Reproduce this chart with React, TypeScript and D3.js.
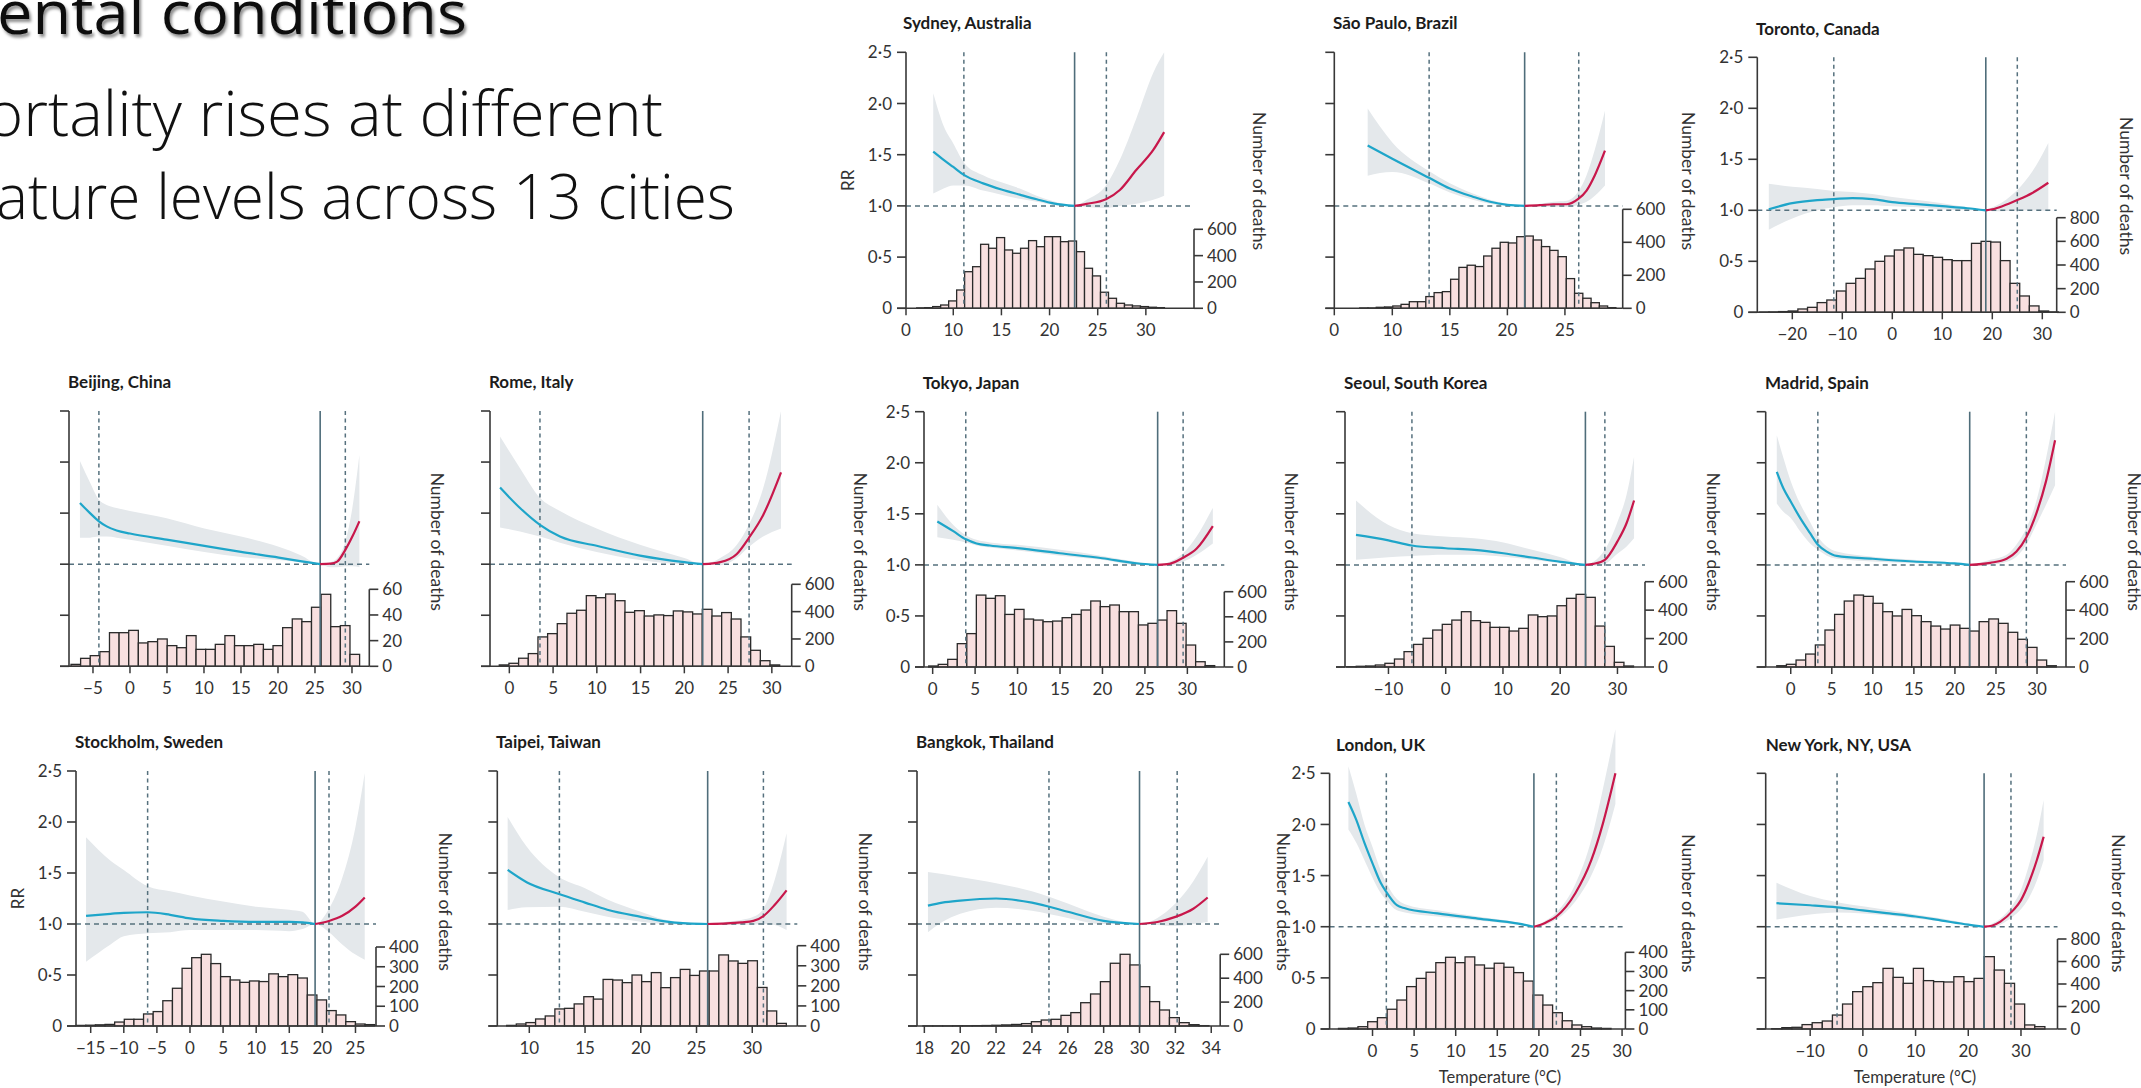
import React, { useEffect } from "react";
import * as d3 from "d3";

const FONT = "Lato, 'Open Sans', 'DejaVu Sans', sans-serif";
const TITLE_FONT = "'Open Sans', 'Noto Sans', sans-serif";

// ---------------- shared ----------------
const rrTicks = [0, 0.5, 1, 1.5, 2, 2.5];
const rrTickLabels = ["0", "0·5", "1·0", "1·5", "2·0", "2·5"];

// ---------------- Sydney ----------------
const sydneyT = [7.92, 9, 10, 11.14, 13.1, 15.0, 16.9, 18.66, 20.4, 22.6, 23.85, 25.86, 27.3, 29.0, 30.77, 31.9];
const sydneyRR = [1.53, 1.45, 1.38, 1.3, 1.22, 1.16, 1.11, 1.065, 1.025, 1.0, 1.02, 1.065, 1.155, 1.35, 1.546, 1.72];
const sydneyHi = [2.1, 1.78, 1.61, 1.42, 1.3, 1.23, 1.17, 1.1, 1.045, 1.0, 1.06, 1.2, 1.45, 1.85, 2.3, 2.5];
const sydneyLo = [1.12, 1.17, 1.2, 1.2, 1.15, 1.11, 1.07, 1.04, 1.01, 1.0, 0.99, 0.98, 1.0, 1.02, 1.06, 1.1];
const sydneyRef = [11.1, 22.6, 25.9];
const sydneyBins = [6.2, 0.83];
const sydneyCounts = [3, 5, 13, 25, 56, 139, 278, 316, 486, 456, 537, 443, 418, 456, 514, 468, 544, 544, 506, 511, 430, 304, 246, 122, 76, 38, 25, 18, 13, 8, 5];
const sydneyHistTicks = [0, 200, 400, 600];
const sydneyDomain = [5.09, 35.0];
const sydneyXTicks = [5.09, 10, 15, 20, 25, 30];
const sydneyXLabels = ["0", "10", "15", "20", "25", "30"];

// ---------------- São Paulo ----------------
const saoPauloT = [7.86, 10, 13.19, 15, 17, 18.49, 20, 21.5, 22.83, 23.99, 25.15, 26.16, 26.88, 27.6, 28.48];
const saoPauloRR = [1.59, 1.46, 1.275, 1.17, 1.09, 1.04, 1.01, 1.0, 1.007, 1.016, 1.016, 1.068, 1.15, 1.3, 1.54];
const saoPauloHi = [1.95, 1.62, 1.34, 1.22, 1.12, 1.06, 1.02, 1.0, 1.02, 1.04, 1.05, 1.14, 1.3, 1.55, 1.93];
const saoPauloLo = [1.295, 1.33, 1.22, 1.13, 1.06, 1.02, 1.0, 1.0, 0.995, 0.99, 0.99, 1.01, 1.04, 1.1, 1.2];
const saoPauloRef = [13.2, 21.5, 26.2];
const saoPauloBins = [7.17, 0.718];
const saoPauloCounts = [2, 2, 6, 8, 14, 24, 40, 40, 71, 95, 101, 176, 248, 261, 253, 317, 364, 400, 396, 434, 438, 414, 374, 351, 313, 180, 91, 61, 34, 14, 4];
const saoPauloHistTicks = [0, 200, 400, 600];
const saoPauloDomain = [4.96, 30.02];
const saoPauloXTicks = [4.96, 10, 15, 20, 25];
const saoPauloXLabels = ["0", "10", "15", "20", "25"];

// ---------------- Toronto ----------------
const torontoT = [-24.7, -20, -15, -11.7, -8, -4, 0, 5, 10, 15, 18.7, 20, 22, 25, 28, 31.2];
const torontoRR = [1.01, 1.07, 1.1, 1.11, 1.12, 1.11, 1.08, 1.06, 1.04, 1.02, 1.0, 1.01, 1.04, 1.1, 1.17, 1.27];
const torontoHi = [1.26, 1.23, 1.21, 1.19, 1.18, 1.16, 1.13, 1.1, 1.07, 1.03, 1.0, 1.03, 1.08, 1.2, 1.38, 1.66];
const torontoLo = [0.81, 0.92, 1.0, 1.03, 1.05, 1.05, 1.04, 1.03, 1.01, 1.0, 1.0, 0.99, 0.99, 1.0, 1.0, 0.99];
const torontoRef = [-11.7, 18.7, 25.0];
const torontoBins = [-26.6, 1.929];
const torontoCounts = [2, 3, 6, 11, 28, 42, 82, 104, 180, 245, 287, 366, 431, 476, 527, 544, 490, 479, 465, 445, 437, 437, 583, 600, 594, 437, 245, 138, 54, 11, 3];
const torontoHistTicks = [0, 200, 400, 600, 800];
const torontoDomain = [-27.0, 32.88];
const torontoXTicks = [-20, -10, 0, 10, 20, 30];

// ---------------- Beijing ----------------
const beijingT = [-6.76, -5.4, -4.19, -3.15, -1.8, 0, 4.95, 10.05, 15, 20.1, 23, 25.7, 27.1, 28, 29.1, 30.05, 31.0];
const beijingRR = [1.6, 1.5, 1.42, 1.37, 1.33, 1.3, 1.24, 1.18, 1.12, 1.065, 1.03, 1.0, 1.005, 1.025, 1.14, 1.27, 1.42];
const beijingHi = [2.01, 1.8, 1.63, 1.58, 1.55, 1.52, 1.45, 1.35, 1.27, 1.17, 1.09, 1.0, 1.02, 1.06, 1.22, 1.55, 2.07];
const beijingLo = [1.26, 1.26, 1.27, 1.27, 1.26, 1.24, 1.18, 1.12, 1.07, 1.04, 1.02, 1.0, 0.97, 0.97, 0.98, 0.98, 0.97];
const beijingRef = [-4.2, 25.7, 29.1];
const beijingBins = [-7.97, 1.3];
const beijingCounts = [1.5, 6.2, 8.3, 11.4, 26.2, 26.2, 28, 18.2, 19.2, 21.3, 16.1, 14.5, 23.9, 13.2, 13.2, 17.1, 23.9, 16.1, 16.1, 17.1, 13.2, 16.1, 30.1, 36.9, 34.8, 46, 56.1, 30.9, 31.7, 9.3];
const beijingHistTicks = [0, 20, 40, 60];
const beijingDomain = [-8.24, 32.34];
const beijingXTicks = [-5, 0, 5, 10, 15, 20, 25, 30];

// ---------------- Rome ----------------
const romeT = [-1.06, 1.22, 3.5, 5.79, 9.98, 14.93, 20, 22.1, 24.1, 26, 27.4, 29.0, 31.05];
const romeRR = [1.75, 1.55, 1.385, 1.27, 1.18, 1.084, 1.02, 1.0, 1.02, 1.1, 1.26, 1.48, 1.9];
const romeHi = [2.25, 1.94, 1.65, 1.52, 1.35, 1.19, 1.06, 1.0, 1.06, 1.19, 1.39, 1.74, 2.5];
const romeLo = [1.36, 1.32, 1.27, 1.21, 1.12, 1.04, 1.0, 1.0, 0.99, 1.06, 1.17, 1.27, 1.35];
const romeRef = [3.5, 22.1, 27.4];
const romeBins = [-1.15, 1.105];
const romeCounts = [10, 22, 59, 93, 215, 239, 312, 388, 410, 517, 502, 529, 480, 395, 407, 368, 376, 371, 405, 398, 383, 417, 368, 393, 346, 215, 117, 41, 10];
const romeHistTicks = [0, 200, 400, 600];
const romeDomain = [-2.21, 32.27];
const romeXTicks = [0, 5, 10, 15, 20, 25, 30];

// ---------------- Tokyo ----------------
const tokyoT = [0.55, 2.43, 3.92, 5.17, 6.74, 10, 14.99, 19.97, 24.0, 26.5, 27.9, 29.5, 31.1, 33.0];
const tokyoRR = [1.425, 1.33, 1.25, 1.21, 1.19, 1.164, 1.114, 1.065, 1.016, 1.0, 1.01, 1.07, 1.16, 1.38];
const tokyoHi = [1.59, 1.39, 1.29, 1.245, 1.22, 1.196, 1.147, 1.088, 1.03, 1.0, 1.03, 1.114, 1.28, 1.56];
const tokyoLo = [1.27, 1.245, 1.22, 1.19, 1.17, 1.14, 1.09, 1.05, 1.0, 1.0, 0.99, 1.03, 1.1, 1.21];
const tokyoRef = [3.9, 26.5, 29.5];
const tokyoBins = [-0.47, 1.123];
const tokyoCounts = [8, 21, 61, 186, 266, 573, 547, 568, 419, 459, 382, 374, 361, 366, 393, 419, 454, 526, 481, 494, 441, 441, 335, 348, 374, 449, 348, 175, 42, 11];
const tokyoHistTicks = [0, 200, 400, 600];
const tokyoDomain = [-1.02, 34.35];
const tokyoXTicks = [0, 5, 10, 15, 20, 25, 30];

// ---------------- Seoul ----------------
const seoulT = [-15.67, -10, -5.93, 0, 5, 10.07, 15.08, 20.08, 24.4, 25.8, 27.8, 30.0, 31.6, 32.9];
const seoulRR = [1.294, 1.24, 1.19, 1.163, 1.147, 1.114, 1.072, 1.03, 1.0, 1.01, 1.05, 1.23, 1.41, 1.63];
const seoulHi = [1.63, 1.39, 1.31, 1.278, 1.26, 1.22, 1.147, 1.075, 1.0, 1.03, 1.147, 1.42, 1.69, 2.06];
const seoulLo = [1.05, 1.075, 1.088, 1.1, 1.1, 1.08, 1.05, 1.016, 1.0, 0.99, 1.01, 1.11, 1.18, 1.26];
const seoulRef = [-5.9, 24.4, 27.8];
const seoulBins = [-17.3, 1.67];
const seoulCounts = [2, 5, 7, 14, 26, 56, 108, 159, 202, 260, 300, 330, 389, 326, 314, 279, 279, 253, 272, 366, 354, 359, 431, 483, 511, 490, 288, 145, 33, 7];
const seoulHistTicks = [0, 200, 400, 600];
const seoulDomain = [-17.59, 34.81];
const seoulXTicks = [-10, 0, 10, 20, 30];

// ---------------- Madrid ----------------
const madridT = [-1.7, -0.9, 0, 1.14, 2.36, 3.29, 4.39, 5.6, 10.0, 14.96, 19.95, 21.8, 24.3, 26.3, 27.5, 28.7, 29.9, 31.1, 32.2];
const madridRR = [1.91, 1.75, 1.62, 1.46, 1.31, 1.2, 1.13, 1.088, 1.06, 1.033, 1.014, 1.0, 1.02, 1.06, 1.13, 1.27, 1.5, 1.82, 2.22];
const madridHi = [2.27, 2.05, 1.82, 1.6, 1.42, 1.28, 1.18, 1.13, 1.08, 1.05, 1.02, 1.0, 1.05, 1.1, 1.2, 1.36, 1.62, 2.045, 2.5];
const madridLo = [1.6, 1.52, 1.46, 1.33, 1.21, 1.15, 1.09, 1.06, 1.033, 1.016, 1.0, 1.0, 1.0, 1.03, 1.08, 1.2, 1.39, 1.59, 1.78];
const madridRef = [3.3, 21.8, 28.7];
const madridBins = [-1.7, 1.174];
const madridCounts = [9, 19, 49, 91, 155, 260, 370, 464, 506, 497, 448, 389, 359, 405, 361, 319, 288, 267, 295, 272, 253, 319, 338, 307, 244, 195, 138, 49, 9];
const madridHistTicks = [0, 200, 400, 600];
const madridDomain = [-3.05, 33.53];
const madridXTicks = [0, 5, 10, 15, 20, 25, 30];

// ---------------- Stockholm ----------------
const stockholmT = [-15.7, -12, -10, -6.4, -3, 0, 5, 10, 15, 17, 18.9, 21, 23, 25, 26.4];
const stockholmRR = [1.08, 1.1, 1.11, 1.115, 1.09, 1.055, 1.03, 1.02, 1.02, 1.015, 1.0, 1.03, 1.08, 1.17, 1.26];
const stockholmHi = [1.85, 1.62, 1.53, 1.37, 1.32, 1.28, 1.22, 1.17, 1.14, 1.12, 1.0, 1.15, 1.45, 1.95, 2.48];
const stockholmLo = [0.63, 0.8, 0.88, 0.91, 0.92, 0.94, 0.94, 0.94, 0.93, 0.95, 1.0, 0.92, 0.8, 0.7, 0.65];
const stockholmRef = [-6.4, 18.9, 21.0];
const stockholmBins = [-17.2, 1.455];
const stockholmCounts = [3, 4, 6, 8, 20, 34, 34, 61, 73, 128, 191, 292, 346, 363, 316, 250, 233, 221, 228, 225, 264, 250, 260, 243, 157, 132, 78, 56, 22, 10, 7];
const stockholmHistTicks = [0, 100, 200, 300, 400];
const stockholmDomain = [-17.22, 28.1];
const stockholmXTicks = [-15, -10, -5, 0, 5, 10, 15, 20, 25];

// ---------------- Taipei ----------------
const taipeiT = [8.06, 9.76, 12.66, 15.0, 17.0, 20.0, 22.0, 24.1, 26.0, 27.7, 29.0, 30.1, 31.0, 32.0, 33.08];
const taipeiRR = [1.53, 1.41, 1.294, 1.21, 1.14, 1.07, 1.029, 1.006, 1.0, 1.006, 1.016, 1.03, 1.078, 1.186, 1.33];
const taipeiHi = [2.05, 1.76, 1.46, 1.35, 1.24, 1.12, 1.046, 1.016, 1.0, 1.023, 1.04, 1.07, 1.15, 1.43, 1.89];
const taipeiLo = [1.137, 1.163, 1.17, 1.12, 1.07, 1.023, 1.0, 0.993, 1.0, 0.993, 0.993, 0.993, 1.0, 0.99, 0.94];
const taipeiRef = [12.7, 26.0, 31.0];
const taipeiBins = [7.97, 0.865];
const taipeiCounts = [3, 10, 17, 35, 50, 85, 88, 110, 146, 134, 232, 229, 216, 254, 221, 266, 191, 241, 282, 252, 274, 274, 354, 324, 312, 325, 192, 75, 13];
const taipeiHistTicks = [0, 100, 200, 300, 400];
const taipeiDomain = [7.13, 34.04];
const taipeiXTicks = [10, 15, 20, 25, 30];

// ---------------- Bangkok ----------------
const bangkokT = [18.2, 19, 20, 22, 24, 26, 28, 30, 31, 32, 33, 33.8];
const bangkokRR = [1.18, 1.21, 1.23, 1.25, 1.21, 1.12, 1.03, 1.0, 1.02, 1.07, 1.15, 1.26];
const bangkokHi = [1.51, 1.49, 1.46, 1.4, 1.32, 1.2, 1.07, 1.0, 1.06, 1.2, 1.42, 1.66];
const bangkokLo = [0.92, 1.02, 1.1, 1.16, 1.13, 1.06, 1.0, 1.0, 0.99, 0.98, 1.0, 1.02];
const bangkokRef = [24.95, 30.0, 32.1];
const bangkokBins = [17.92, 0.55];
const bangkokCounts = [1, 1, 1, 2, 2, 3, 4, 6, 9, 13, 20, 36, 50, 56, 89, 112, 195, 268, 371, 525, 600, 511, 329, 204, 134, 70, 28, 11, 3];
const bangkokHistTicks = [0, 200, 400, 600];
const bangkokDomain = [17.59, 34.5];
const bangkokXTicks = [18, 20, 22, 24, 26, 28, 30, 32, 34];

// ---------------- London ----------------
const londonT = [-2.9, -1.95, -0.97, 0, 0.98, 1.66, 2.93, 3.9, 7.8, 12.67, 17.55, 19.4, 20.8, 22.1, 24.4, 26.3, 27.7, 29.2];
const londonRR = [2.22, 2.045, 1.82, 1.62, 1.43, 1.34, 1.21, 1.18, 1.13, 1.08, 1.03, 1.0, 1.04, 1.1, 1.33, 1.65, 2.01, 2.5];
const londonHi = [2.57, 2.3, 2.0, 1.78, 1.55, 1.43, 1.27, 1.22, 1.16, 1.1, 1.04, 1.0, 1.06, 1.14, 1.42, 1.85, 2.35, 2.93];
const londonLo = [1.95, 1.82, 1.65, 1.48, 1.33, 1.26, 1.16, 1.14, 1.1, 1.06, 1.02, 1.0, 1.02, 1.07, 1.25, 1.5, 1.78, 2.2];
const londonRef = [1.66, 19.4, 22.1];
const londonBins = [-4.09, 1.17];
const londonCounts = [3, 5, 12, 38, 59, 103, 151, 221, 264, 296, 346, 374, 346, 376, 334, 317, 343, 322, 294, 250, 177, 125, 85, 43, 21, 12, 5, 3];
const londonHistTicks = [0, 100, 200, 300, 400];
const londonDomain = [-5.16, 30.4];
const londonXTicks = [0, 5, 10, 15, 20, 25, 30];

// ---------------- New York ----------------
const newYorkT = [-16.4, -10, -4.9, 0, 5, 10, 15, 20, 23, 24.5, 26.1, 28.5, 30, 31.5, 33, 34.3];
const newYorkRR = [1.23, 1.21, 1.19, 1.16, 1.13, 1.1, 1.06, 1.02, 1.0, 1.01, 1.05, 1.16, 1.26, 1.43, 1.65, 1.88];
const newYorkHi = [1.43, 1.3, 1.24, 1.2, 1.16, 1.12, 1.08, 1.03, 1.0, 1.03, 1.08, 1.22, 1.36, 1.6, 1.9, 2.24];
const newYorkLo = [1.07, 1.12, 1.14, 1.13, 1.11, 1.08, 1.05, 1.01, 1.0, 0.99, 1.02, 1.1, 1.17, 1.28, 1.45, 1.65];
const newYorkRef = [-4.9, 23.0, 28.1];
const newYorkBins = [-17.3, 1.92];
const newYorkCounts = [3, 12, 15, 39, 56, 71, 124, 222, 332, 376, 412, 539, 459, 406, 539, 430, 421, 418, 465, 421, 450, 643, 524, 406, 222, 36, 21];
const newYorkHistTicks = [0, 200, 400, 600, 800];
const newYorkDomain = [-18.44, 36.93];
const newYorkXTicks = [-10, 0, 10, 20, 30];

// ---------------- layout (pixel positions) ----------------
const layouts = {
  sydney: { x0: 906, xH: 1194, base: 308.3, top: 52.3, histTop: 229.3, titleX: 903, titleY: 29, yLabels: true, rrX: 848, nodX: 1259, nodY: 181 },
  saoPaulo: { x0: 1334.3, xH: 1622.7, base: 308.3, top: 52.3, histTop: 209.3, titleX: 1333, titleY: 29, nodX: 1688, nodY: 181 },
  toronto: { x0: 1757.3, xH: 2056.7, base: 312.3, top: 57.3, histTop: 217.7, titleX: 1756, titleY: 35, yLabels: true, nodX: 2126.7, nodY: 186 },
  beijing: { x0: 69, xH: 369.3, base: 666.3, top: 411, histTop: 589.3, titleX: 68, titleY: 388, nodX: 437.7, nodY: 541.7 },
  rome: { x0: 490, xH: 791.7, base: 666.3, top: 411, histTop: 584.3, titleX: 489, titleY: 388, nodX: 860, nodY: 541.7 },
  tokyo: { x0: 924, xH: 1224.3, base: 667, top: 411.7, histTop: 591.7, titleX: 922.7, titleY: 389, yLabels: true, nodX: 1291.7, nodY: 541.7 },
  seoul: { x0: 1345, xH: 1645, base: 667, top: 411.7, histTop: 581.7, titleX: 1344, titleY: 389, nodX: 1713.3, nodY: 541.7 },
  madrid: { x0: 1765.7, xH: 2066, base: 667, top: 411.7, histTop: 581.7, titleX: 1765, titleY: 389, nodX: 2134.3, nodY: 541.7 },
  stockholm: { x0: 76, xH: 376, base: 1026, top: 771, histTop: 947, titleX: 75, titleY: 748, yLabels: true, rrX: 18, nodX: 445, nodY: 901.7 },
  taipei: { x0: 497.3, xH: 797.3, base: 1026, top: 771, histTop: 945.7, titleX: 496, titleY: 748, nodX: 865, nodY: 901.7 },
  bangkok: { x0: 917, xH: 1220.2, base: 1026, top: 771, histTop: 954.3, titleX: 916, titleY: 748, nodX: 1283, nodY: 901.7 },
  london: { x0: 1329.6, xH: 1625.4, base: 1029, top: 773.3, histTop: 952.3, titleX: 1336, titleY: 751, yLabels: true, nodX: 1688.6, nodY: 903.3, tempX: 1500 },
  newYork: { x0: 1765.7, xH: 2057.5, base: 1029, top: 773.3, histTop: 939, titleX: 1765.7, titleY: 751, nodX: 2118.3, nodY: 903.3, tempX: 1915 },
};

const panels = [
  { name: "Sydney, Australia", T: sydneyT, RR: sydneyRR, hi: sydneyHi, lo: sydneyLo, ref: sydneyRef, bins: sydneyBins, counts: sydneyCounts, hTicks: sydneyHistTicks, domain: sydneyDomain, xTicks: sydneyXTicks, xLabels: sydneyXLabels, L: layouts.sydney },
  { name: "São Paulo, Brazil", T: saoPauloT, RR: saoPauloRR, hi: saoPauloHi, lo: saoPauloLo, ref: saoPauloRef, bins: saoPauloBins, counts: saoPauloCounts, hTicks: saoPauloHistTicks, domain: saoPauloDomain, xTicks: saoPauloXTicks, xLabels: saoPauloXLabels, L: layouts.saoPaulo },
  { name: "Toronto, Canada", T: torontoT, RR: torontoRR, hi: torontoHi, lo: torontoLo, ref: torontoRef, bins: torontoBins, counts: torontoCounts, hTicks: torontoHistTicks, domain: torontoDomain, xTicks: torontoXTicks, L: layouts.toronto },
  { name: "Beijing, China", T: beijingT, RR: beijingRR, hi: beijingHi, lo: beijingLo, ref: beijingRef, bins: beijingBins, counts: beijingCounts, hTicks: beijingHistTicks, domain: beijingDomain, xTicks: beijingXTicks, L: layouts.beijing },
  { name: "Rome, Italy", T: romeT, RR: romeRR, hi: romeHi, lo: romeLo, ref: romeRef, bins: romeBins, counts: romeCounts, hTicks: romeHistTicks, domain: romeDomain, xTicks: romeXTicks, L: layouts.rome },
  { name: "Tokyo, Japan", T: tokyoT, RR: tokyoRR, hi: tokyoHi, lo: tokyoLo, ref: tokyoRef, bins: tokyoBins, counts: tokyoCounts, hTicks: tokyoHistTicks, domain: tokyoDomain, xTicks: tokyoXTicks, L: layouts.tokyo },
  { name: "Seoul, South Korea", T: seoulT, RR: seoulRR, hi: seoulHi, lo: seoulLo, ref: seoulRef, bins: seoulBins, counts: seoulCounts, hTicks: seoulHistTicks, domain: seoulDomain, xTicks: seoulXTicks, L: layouts.seoul },
  { name: "Madrid, Spain", T: madridT, RR: madridRR, hi: madridHi, lo: madridLo, ref: madridRef, bins: madridBins, counts: madridCounts, hTicks: madridHistTicks, domain: madridDomain, xTicks: madridXTicks, L: layouts.madrid },
  { name: "Stockholm, Sweden", T: stockholmT, RR: stockholmRR, hi: stockholmHi, lo: stockholmLo, ref: stockholmRef, bins: stockholmBins, counts: stockholmCounts, hTicks: stockholmHistTicks, domain: stockholmDomain, xTicks: stockholmXTicks, L: layouts.stockholm },
  { name: "Taipei, Taiwan", T: taipeiT, RR: taipeiRR, hi: taipeiHi, lo: taipeiLo, ref: taipeiRef, bins: taipeiBins, counts: taipeiCounts, hTicks: taipeiHistTicks, domain: taipeiDomain, xTicks: taipeiXTicks, L: layouts.taipei },
  { name: "Bangkok, Thailand", T: bangkokT, RR: bangkokRR, hi: bangkokHi, lo: bangkokLo, ref: bangkokRef, bins: bangkokBins, counts: bangkokCounts, hTicks: bangkokHistTicks, domain: bangkokDomain, xTicks: bangkokXTicks, L: layouts.bangkok },
  { name: "London, UK", T: londonT, RR: londonRR, hi: londonHi, lo: londonLo, ref: londonRef, bins: londonBins, counts: londonCounts, hTicks: londonHistTicks, domain: londonDomain, xTicks: londonXTicks, L: layouts.london },
  { name: "New York, NY, USA", T: newYorkT, RR: newYorkRR, hi: newYorkHi, lo: newYorkLo, ref: newYorkRef, bins: newYorkBins, counts: newYorkCounts, hTicks: newYorkHistTicks, domain: newYorkDomain, xTicks: newYorkXTicks, L: layouts.newYork },
];

const fmt = (v: number) => (v < 0 ? "\u2212" + Math.abs(v) : String(v));

const AX = "#383838";
const REF = "#56717e";
const BLUE = "#1ea5c9";
const RED = "#c8174b";
const BAND = "#e4e8eb";
const BAR_FILL = "#f8e0e0";
const LABEL_SIZE = 17;

function Panel({ p }: { p: any }) {
  const L = p.L;
  const x = d3.scaleLinear().domain(p.domain).range([L.x0, L.xH]);
  const y = d3.scaleLinear().domain([0, 2.5]).range([L.base, L.top]);
  const hMax = p.hTicks[p.hTicks.length - 1];
  const yh = d3.scaleLinear().domain([0, hMax]).range([L.base, L.histTop]);
  const pts = p.T.map((t: number, i: number) => ({ t, rr: p.RR[i], hi: p.hi[i], lo: p.lo[i] }));
  const mmt = p.ref[1];
  const cold = pts.filter((d: any) => d.t <= mmt);
  const hot = pts.filter((d: any) => d.t >= mmt);
  const line = d3.line<any>().x((d) => x(d.t)).y((d) => y(d.rr)).curve(d3.curveMonotoneX);
  const area = d3
    .area<any>()
    .x((d) => x(d.t))
    .y0((d) => y(d.lo))
    .y1((d) => y(d.hi))
    .curve(d3.curveMonotoneX);
  const [b0, bw] = p.bins;
  const xLabels = p.xLabels || p.xTicks.map(fmt);
  const midY = (L.top + L.base) / 2;
  return (
    <g>
      <text x={L.titleX} y={L.titleY} fontFamily={FONT} fontWeight={700} fontSize={17} fill="#1c1c1c">
        {p.name}
      </text>
      <path d={area(pts) || ""} fill={BAND} />
      {p.counts.map((c: number, i: number) => {
        const a = b0 + i * bw;
        const x1 = x(a);
        const x2 = x(a + bw);
        return (
          <rect key={i} x={x1} y={yh(c)} width={x2 - x1} height={L.base - yh(c)} fill={BAR_FILL} stroke="#2a2a2a" strokeWidth={1.3} />
        );
      })}
      <line x1={L.x0} x2={L.xH} y1={y(1)} y2={y(1)} stroke={REF} strokeWidth={1.5} strokeDasharray="5,4" />
      <line x1={x(p.ref[0])} x2={x(p.ref[0])} y1={L.top} y2={L.base} stroke={REF} strokeWidth={1.5} strokeDasharray="4,3.5" />
      <line x1={x(p.ref[2])} x2={x(p.ref[2])} y1={L.top} y2={L.base} stroke={REF} strokeWidth={1.5} strokeDasharray="4,3.5" />
      <line x1={x(mmt)} x2={x(mmt)} y1={L.top} y2={L.base} stroke="#4f6d7a" strokeWidth={1.6} />
      <path d={line(cold) || ""} fill="none" stroke={BLUE} strokeWidth={2.2} />
      <path d={line(hot) || ""} fill="none" stroke={RED} strokeWidth={2.2} />
      {/* RR axis */}
      <line x1={L.x0} x2={L.x0} y1={L.top} y2={L.base} stroke={AX} strokeWidth={1.6} />
      {rrTicks.map((t, i) => (
        <g key={"r" + i}>
          <line x1={L.x0 - 9} x2={L.x0} y1={y(t)} y2={y(t)} stroke={AX} strokeWidth={1.6} />
          {L.yLabels && (
            <text x={L.x0 - 14} y={y(t)} dy="0.36em" textAnchor="end" fontFamily={FONT} fontSize={LABEL_SIZE} fill="#333">
              {rrTickLabels[i]}
            </text>
          )}
        </g>
      ))}
      {L.rrX !== undefined && (
        <text transform={`translate(${L.rrX},${midY}) rotate(-90)`} textAnchor="middle" dy="0.36em" fontFamily={FONT} fontSize={LABEL_SIZE} fill="#333">
          RR
        </text>
      )}
      {/* x axis */}
      <line x1={L.x0 - 9} x2={L.xH} y1={L.base} y2={L.base} stroke={AX} strokeWidth={1.6} />
      {p.xTicks.map((t: number, i: number) => (
        <g key={"x" + i}>
          <line x1={x(t)} x2={x(t)} y1={L.base} y2={L.base + 7} stroke={AX} strokeWidth={1.5} />
          <text x={x(t)} y={L.base + 28} textAnchor="middle" fontFamily={FONT} fontSize={LABEL_SIZE} fill="#333">
            {xLabels[i]}
          </text>
        </g>
      ))}
      {/* histogram axis */}
      <line x1={L.xH} x2={L.xH} y1={L.histTop} y2={L.base} stroke={AX} strokeWidth={1.6} />
      {p.hTicks.map((t: number, i: number) => (
        <g key={"h" + i}>
          <line x1={L.xH} x2={L.xH + 9} y1={yh(t)} y2={yh(t)} stroke={AX} strokeWidth={1.6} />
          <text x={L.xH + 13} y={yh(t)} dy="0.36em" textAnchor="start" fontFamily={FONT} fontSize={LABEL_SIZE} fill="#333">
            {t}
          </text>
        </g>
      ))}
      <text transform={`translate(${L.nodX},${L.nodY}) rotate(90)`} textAnchor="middle" dy="0.36em" fontFamily={FONT} fontSize={17.5} fill="#333">
        Number of deaths
      </text>
      {L.tempX !== undefined && (
        <text x={L.tempX} y={L.base + 54} textAnchor="middle" fontFamily={FONT} fontSize={16.5} fill="#333">
          Temperature (°C)
        </text>
      )}
    </g>
  );
}

export default function App() {
  useEffect(() => {
    document.body.style.margin = "0";
    document.body.style.overflow = "hidden";
  }, []);
  return (
    <svg width={2141} height={1088} style={{ position: "absolute", left: 0, top: 0, background: "#fff" }} xmlns="http://www.w3.org/2000/svg">
      <defs>
        <filter id="tshadow" x="-5%" y="-20%" width="110%" height="150%">
          <feDropShadow dx="2" dy="3" stdDeviation="1.5" floodColor="#000" floodOpacity="0.45" />
        </filter>
      </defs>
      <rect x={0} y={0} width={2141} height={1088} fill="#fff" />
      <text x={-3} y={34} fontFamily={TITLE_FONT} fontSize={60} fill="#111" textLength={470} lengthAdjust="spacingAndGlyphs" filter="url(#tshadow)">
        ental conditions
      </text>
      <text x={-14} y={136} fontFamily={TITLE_FONT} fontWeight={300} fontSize={62} fill="#111" textLength={677} lengthAdjust="spacingAndGlyphs">
        ortality rises at different
      </text>
      <text x={-4} y={219} fontFamily={TITLE_FONT} fontWeight={300} fontSize={62} fill="#111" textLength={739} lengthAdjust="spacingAndGlyphs">
        ature levels across 13 cities
      </text>
      {panels.map((p, i) => (
        <Panel key={i} p={p} />
      ))}
    </svg>
  );
}
